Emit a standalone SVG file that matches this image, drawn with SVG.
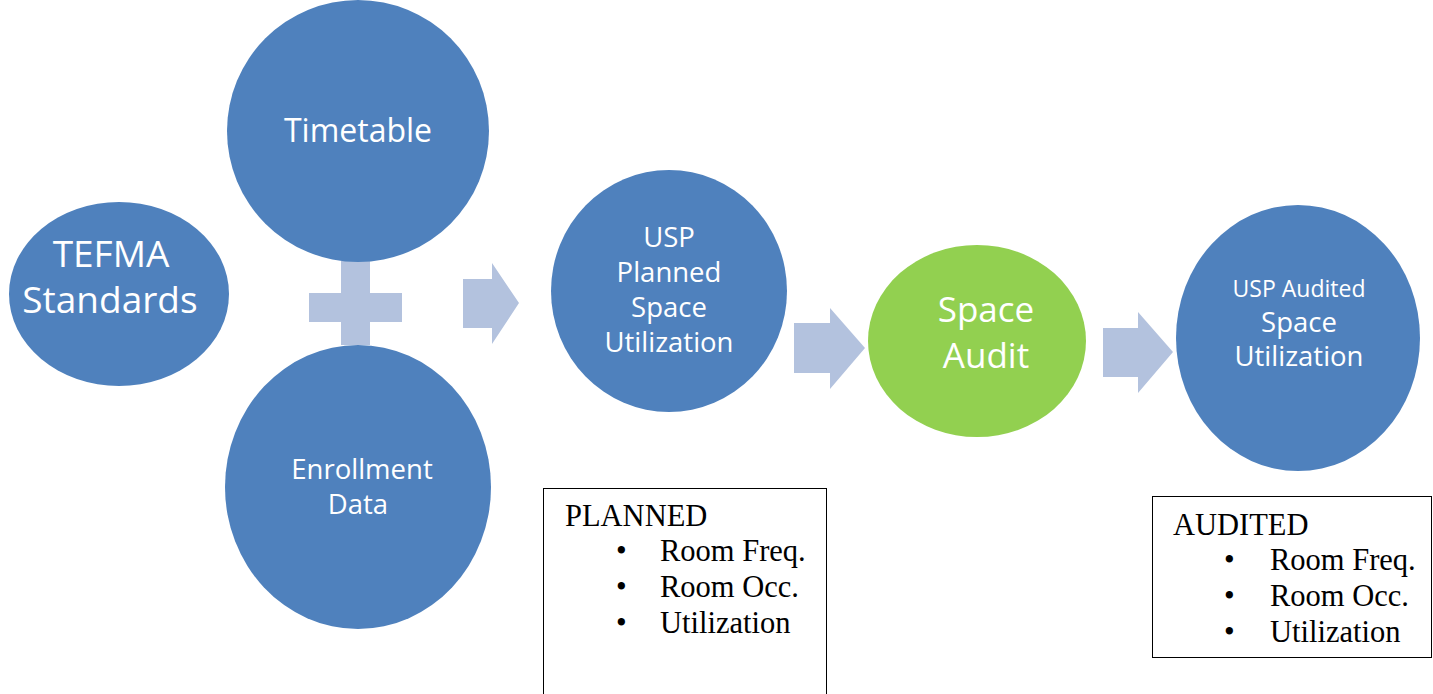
<svg xmlns="http://www.w3.org/2000/svg" width="1433" height="694" viewBox="0 0 1433 694">
<style>
.b{fill:#4F81BD}
.g{fill:#92D050}
.a{fill:#B3C2DE}
.t{fill:#fff;font-family:"Open Sans","Noto Sans",sans-serif;text-anchor:middle}
.s{fill:#000;font-family:"Liberation Serif",serif;font-size:30.5px}
.box{fill:#fff;stroke:#000;stroke-width:1}
</style>
<rect width="1433" height="694" fill="#fff"/>
<g id="connectors">
<path class="a" d="M341 261H370V293H402V322H370V345H341V322H309V293H341Z"/>
<path class="a" d="M463 279H492V263L519 303L492 344V328H463Z"/>
<path class="a" d="M794 323H830V308L865 348L830 389V373H794Z"/>
<path class="a" d="M1103 328H1138V312L1173 352L1138 393V377H1103Z"/>
</g>
<g id="tefma">
<ellipse class="b" cx="119" cy="294" rx="110" ry="92"/>
<text class="t" font-size="37"><tspan x="111" y="267">TEFMA</tspan><tspan x="110" y="313">Standards</tspan></text>
</g>
<g id="timetable">
<ellipse class="b" cx="358" cy="131" rx="131" ry="131"/>
<text class="t" font-size="32" x="358" y="142">Timetable</text>
</g>
<g id="enrollment">
<ellipse class="b" cx="358" cy="487" rx="133" ry="142"/>
<text class="t" font-size="27.5"><tspan x="362" y="479">Enrollment</tspan><tspan x="358" y="514">Data</tspan></text>
</g>
<g id="planned">
<ellipse class="b" cx="669" cy="291" rx="118" ry="121"/>
<text class="t" font-size="27.5"><tspan x="669" y="247">USP</tspan><tspan x="669" y="282">Planned</tspan><tspan x="669" y="317">Space</tspan><tspan x="669" y="352">Utilization</tspan></text>
</g>
<g id="audit">
<ellipse class="g" cx="977" cy="341" rx="109" ry="96"/>
<text class="t" font-size="35"><tspan x="986" y="322">Space</tspan><tspan x="986" y="368">Audit</tspan></text>
</g>
<g id="audited">
<ellipse class="b" cx="1298" cy="338" rx="122" ry="133"/>
<text class="t"><tspan x="1299" y="297" font-size="23">USP Audited</tspan><tspan x="1299" y="332" font-size="27.5">Space</tspan><tspan x="1299" y="366" font-size="27.5">Utilization</tspan></text>
</g>
<g id="planned-box">
<rect class="box" x="543.5" y="488.5" width="283" height="210"/>
<text class="s"><tspan x="565" y="526">PLANNED</tspan><tspan x="616" y="561">•</tspan><tspan x="660" y="561">Room Freq.</tspan><tspan x="616" y="597">•</tspan><tspan x="660" y="597">Room Occ.</tspan><tspan x="616" y="633">•</tspan><tspan x="660" y="633">Utilization</tspan></text>
</g>
<g id="audited-box">
<rect class="box" x="1152.5" y="496.5" width="279" height="161"/>
<text class="s"><tspan x="1173" y="535">AUDITED</tspan><tspan x="1224" y="570">•</tspan><tspan x="1270" y="570">Room Freq.</tspan><tspan x="1224" y="606">•</tspan><tspan x="1270" y="606">Room Occ.</tspan><tspan x="1224" y="642">•</tspan><tspan x="1270" y="642">Utilization</tspan></text>
</g>
</svg>
